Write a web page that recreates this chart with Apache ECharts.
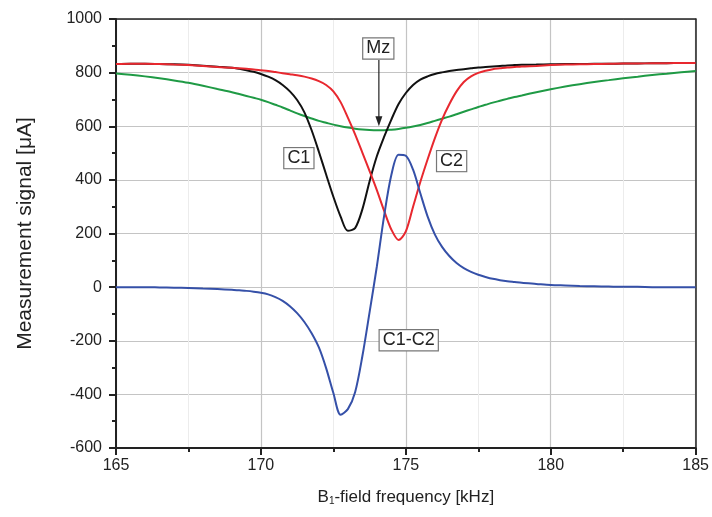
<!DOCTYPE html>
<html><head><meta charset="utf-8">
<script src="https://cdn.jsdelivr.net/npm/echarts@6/dist/echarts.min.js"></script>
<style>html,body{margin:0;padding:0;background:#fff}#c{width:712px;height:517px}</style>
</head><body><div id="c"></div>
<script>
const freq = [165,165.5,166,166.5,167,167.5,168,168.5,169,
  169.25,169.5,169.75,170,170.25,170.5,170.75,171,171.25,171.5,
  171.75,172,172.25,172.5,172.75,173,173.25,173.5,173.75,174,
  174.25,174.5,174.75,175,175.25,175.5,175.75,176,176.25,176.5,
  176.75,177,177.25,177.5,177.75,178,178.25,178.5,178.75,179,
  179.5,180,180.5,181,181.5,182,182.5,183,183.5,184,184.5,185];
const c1 = [832,833,833,832,831,829,826,822,818,
  814,809,803,795,785,772,754,730,698,652,
  585,505,420,337,263,210,220,290,395,488,
  560,625,683,724,754,774,786,795,801,806,
  810,813,816,819,821,823,825,827,828,829,
  830,831,832,832,833,833,834,834,835,835,836,836];
const c2 = [832,833,833,832,830,828,825,821,818,
  816,814,812,809,806,802,798,794,790,785,
  778,768,754,730,690,632,570,502,433,362,
  285,215,176,208,300,392,476,555,625,682,
  730,765,786,799,807,813,816,819,821,823,
  825,828,830,831,832,833,834,834,835,835,836,836];
const mz = [797,792,786,779,771,762,751,739,727,
  720,713,706,699,690,680,670,659,648,638,
  629,620,613,606,600,595,591,588,586,585,
  585,587,590,594,599,605,612,620,628,636,
  645,654,663,672,680,688,695,702,709,715,
  727,738,748,757,765,772,779,785,791,796,801,806];
const diff = [0,0,0,-1,-2,-3,-5,-7,-10,
  -12,-14,-17,-21,-27,-37,-51,-71,-97,-130,
  -172,-225,-302,-395,-476,-455,-392,-258,-93,77,
  265,418,494,490,438,350,264,197,150,116,
  90,71,57,46,38,31,26,22,19,16,
  12,8,6,4,3,2,1,1,0,0,0,0];
const yTicks = [-600,-400,-200,0,200,400,600,800,1000];
const xTicks = [165,170,175,180,185];
const labels = [
  {text:'Mz', x:174.05, y:890},
  {text:'C1', x:171.31, y:481},
  {text:'C2', x:176.58, y:470},
  {text:'C1-C2', x:175.1, y:-198}
];
const arrow = {x:174.07, y1:847, y2:600};

const pair = a => freq.map((f,i)=>[f,a[i]]);
const chart = echarts.init(document.getElementById('c'));
const FONT = 'Liberation Sans, Arial, sans-serif';
const INK = '#222';
function mk(name, arr, color){
  return {name, type:'line', data:pair(arr), smooth:0.3, showSymbol:false, symbol:'none',
    lineStyle:{color, width:2}, itemStyle:{color}, z:3};
}
const frameX = {type:'value', position:'top', min:xTicks[0], max:xTicks[xTicks.length-1],
  axisLine:{show:true, onZero:false, lineStyle:{color:INK, width:1.5}}, axisTick:{show:false}, axisLabel:{show:false}, splitLine:{show:false}};
const frameY = {type:'value', position:'right', min:yTicks[0], max:yTicks[yTicks.length-1],
  axisLine:{show:true, onZero:false, lineStyle:{color:INK, width:1.5}}, axisTick:{show:false}, axisLabel:{show:false}, splitLine:{show:false}};
chart.setOption({
  animation:false,
  grid:{left:116, right:14, top:19, bottom:69},
  xAxis:[{type:'value', min:xTicks[0], max:xTicks[xTicks.length-1], interval:5,
    name:'{b|B}{s|1}{b|-field frequency [kHz]}', nameLocation:'middle', nameGap:40,
    nameTextStyle:{rich:{b:{fontSize:17, fontFamily:FONT, color:INK}, s:{fontSize:10, fontFamily:FONT, color:INK, verticalAlign:'bottom', padding:[8,0,0,0]}}},
    axisLine:{show:true, onZero:false, lineStyle:{color:INK, width:2}},
    axisTick:{show:true, inside:false, length:7, lineStyle:{color:INK, width:2}},
    minorTick:{show:true, splitNumber:2, length:4, lineStyle:{color:INK, width:2}},
    axisLabel:{fontSize:16, fontFamily:FONT, color:INK, margin:10},
    splitLine:{show:true, lineStyle:{color:'#c4c4c4', width:1.2}},
    minorSplitLine:{show:true, lineStyle:{color:'#ececec', width:1}}
  }, frameX],
  yAxis:[{type:'value', min:yTicks[0], max:yTicks[yTicks.length-1], interval:200,
    name:'Measurement signal [μA]', nameLocation:'middle', nameGap:80,
    nameTextStyle:{fontSize:21, fontFamily:FONT, color:INK},
    axisLine:{show:true, onZero:false, lineStyle:{color:INK, width:2}},
    axisTick:{show:true, inside:false, length:7, lineStyle:{color:INK, width:2}},
    minorTick:{show:true, splitNumber:2, length:4, lineStyle:{color:INK, width:2}},
    axisLabel:{fontSize:16, fontFamily:FONT, color:INK, margin:14, formatter:v=>String(v)},
    splitLine:{show:true, lineStyle:{color:'#c4c4c4', width:1.2}}
  }, frameY],
  series:[
    mk('Mz', mz, '#1f9a45'),
    mk('C1', c1, '#111111'),
    mk('C2', c2, '#e8282f'),
    mk('C1-C2', diff, '#3550a8')
  ]
});
const g = [];
labels.forEach(l=>{
  const p = chart.convertToPixel({xAxisIndex:0, yAxisIndex:0}, [l.x, l.y]);
  g.push({type:'text', x:p[0], y:p[1], z:10,
    style:{text:l.text, font:'18px '+FONT, fill:INK, align:'center', verticalAlign:'middle',
      backgroundColor:'#fff', borderColor:'#777', borderWidth:1.2, padding:[2,3,0,3]}});
});
const a1 = chart.convertToPixel({xAxisIndex:0, yAxisIndex:0}, [arrow.x, arrow.y1]);
const a2 = chart.convertToPixel({xAxisIndex:0, yAxisIndex:0}, [arrow.x, arrow.y2]);
g.push({type:'line', z:10, shape:{x1:a1[0], y1:a1[1], x2:a2[0], y2:a2[1]-8}, style:{stroke:INK, lineWidth:1.2}});
g.push({type:'polygon', z:10, shape:{points:[[a2[0]-3.5,a2[1]-10],[a2[0]+3.5,a2[1]-10],[a2[0],a2[1]]]}, style:{fill:INK}});
chart.setOption({graphic:g});
</script></body></html>
